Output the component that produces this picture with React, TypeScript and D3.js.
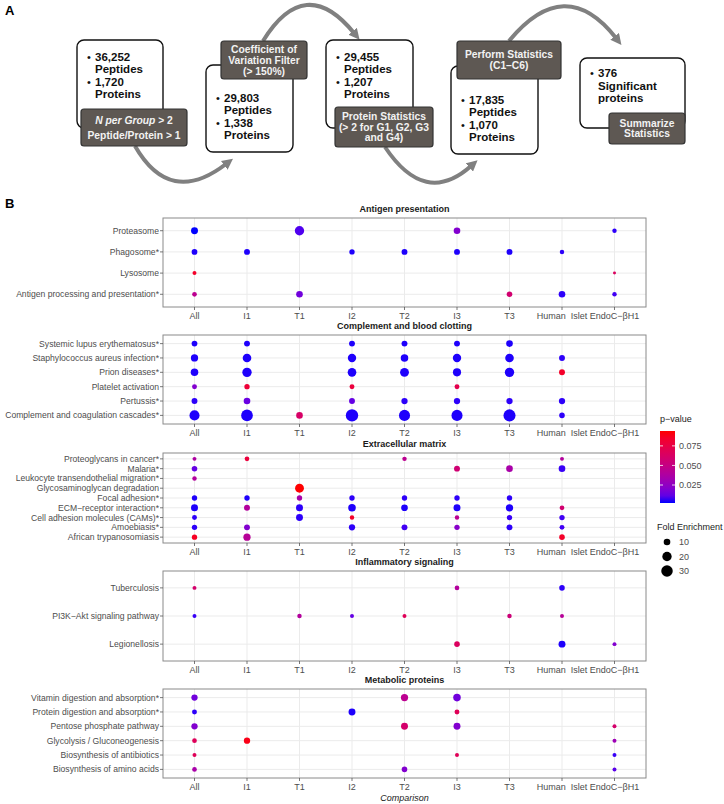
import React from "react";
import * as d3 from "d3";

// ---- panel B data ----
const comparisons = ["All", "I1", "T1", "I2", "T2", "I3", "T3", "Human", "EndoC"];
const comparisonLabels = ["All", "I1", "T1", "I2", "T2", "I3", "T3", "Human  Islet", "EndoC\u2212\u03b2H1"];

const panelTitles = [
  "Antigen presentation",
  "Complement and blood clotting",
  "Extracellular matrix",
  "Inflammatory signaling",
  "Metabolic proteins",
];

const antigenTerms = ["Proteasome", "Phagosome*", "Lysosome", "Antigen processing and presentation*"];
const clottingTerms = [
  "Systemic lupus erythematosus*",
  "Staphylococcus aureus infection*",
  "Prion diseases*",
  "Platelet activation",
  "Pertussis*",
  "Complement and coagulation cascades*",
];
const matrixTerms = [
  "Proteoglycans in cancer*",
  "Malaria*",
  "Leukocyte transendothelial migration*",
  "Glycosaminoglycan degradation",
  "Focal adhesion*",
  "ECM\u2212receptor interaction*",
  "Cell adhesion molecules (CAMs)*",
  "Amoebiasis*",
  "African trypanosomiasis",
];
const inflammatoryTerms = ["Tuberculosis", "PI3K\u2212Akt signaling pathway", "Legionellosis"];
const metabolicTerms = [
  "Vitamin digestion and absorption*",
  "Protein digestion and absorption*",
  "Pentose phosphate pathway",
  "Glycolysis / Gluconeogenesis",
  "Biosynthesis of antibiotics",
  "Biosynthesis of amino acids",
];

// [term index, comparison, fold enrichment, p-value]
type Dot = [number, string, number, number];

const antigenDots: Dot[] = [
  [0, "All", 11, 0.002], [0, "T1", 20, 0.008], [0, "I3", 10, 0.02], [0, "EndoC", 4.4, 0.004],
  [1, "All", 7.5, 0.003], [1, "I1", 8, 0.003], [1, "I2", 6.5, 0.003], [1, "T2", 8, 0.003],
  [1, "I3", 8, 0.003], [1, "T3", 8, 0.003], [1, "Human", 4.5, 0.004],
  [2, "All", 3.6, 0.085], [2, "EndoC", 2, 0.065],
  [3, "All", 5, 0.045], [3, "T1", 10, 0.015], [3, "T3", 7, 0.058], [3, "Human", 10, 0.004], [3, "EndoC", 4.5, 0.006],
];

const clottingDots: Dot[] = [
  [0, "All", 7.5, 0.003], [0, "I1", 8, 0.003], [0, "I2", 8, 0.003], [0, "T2", 8, 0.003], [0, "I3", 8, 0.003], [0, "T3", 10, 0.003],
  [1, "All", 12, 0.003], [1, "I1", 17, 0.003], [1, "I2", 16, 0.003], [1, "T2", 13, 0.003], [1, "I3", 16, 0.003], [1, "T3", 17, 0.003], [1, "Human", 8, 0.004],
  [2, "All", 13, 0.003], [2, "I1", 20, 0.003], [2, "I2", 17, 0.003], [2, "T2", 18, 0.003], [2, "I3", 15, 0.003], [2, "T3", 20, 0.003], [2, "Human", 8, 0.085],
  [3, "All", 5.5, 0.02], [3, "I1", 6.5, 0.08], [3, "I2", 5.5, 0.078], [3, "I3", 5.5, 0.072],
  [4, "All", 8, 0.004], [4, "I1", 10, 0.013], [4, "I2", 8, 0.012], [4, "T2", 9, 0.004], [4, "I3", 9, 0.004], [4, "T3", 9, 0.004], [4, "Human", 9, 0.004],
  [5, "All", 23, 0.003], [5, "I1", 31, 0.003], [5, "T1", 10, 0.062], [5, "I2", 35, 0.003], [5, "T2", 28, 0.003], [5, "I3", 28, 0.003], [5, "T3", 33, 0.003], [5, "Human", 7, 0.004],
];

const matrixDots: Dot[] = [
  [0, "All", 3.6, 0.038], [0, "I1", 5, 0.078], [0, "T2", 4.5, 0.045], [0, "Human", 3.6, 0.04],
  [1, "All", 7, 0.012], [1, "I3", 8, 0.057], [1, "T3", 10, 0.035], [1, "Human", 10, 0.005],
  [2, "All", 4.5, 0.04],
  [3, "T1", 18, 0.094],
  [4, "All", 6.5, 0.003], [4, "I1", 6.5, 0.003], [4, "T1", 6.5, 0.035], [4, "I2", 6.5, 0.004], [4, "T2", 6.5, 0.004], [4, "I3", 6.5, 0.004], [4, "T3", 6.5, 0.004],
  [5, "All", 11, 0.003], [5, "I1", 8, 0.04], [5, "T1", 11, 0.004], [5, "I2", 13, 0.003], [5, "T2", 10, 0.003], [5, "I3", 11, 0.003], [5, "T3", 12, 0.003], [5, "Human", 5, 0.058],
  [6, "All", 5.5, 0.004], [6, "T1", 11, 0.004], [6, "I2", 4.5, 0.085], [6, "I3", 4.5, 0.045], [6, "T3", 6.5, 0.005], [6, "Human", 6.5, 0.006],
  [7, "All", 6.5, 0.004], [7, "I1", 8, 0.02], [7, "I2", 9, 0.004], [7, "T2", 8, 0.006], [7, "I3", 6.5, 0.022], [7, "T3", 8, 0.004], [7, "Human", 5.5, 0.006],
  [8, "All", 6.5, 0.087], [8, "I1", 12, 0.042], [8, "Human", 7, 0.085],
];

const inflammatoryDots: Dot[] = [
  [0, "All", 3.6, 0.06], [0, "I3", 5, 0.04], [0, "Human", 7, 0.004],
  [1, "All", 3.6, 0.005], [1, "T1", 4.5, 0.04], [1, "I2", 3.6, 0.012], [1, "T2", 3.6, 0.068], [1, "T3", 4.5, 0.055], [1, "Human", 3.6, 0.042],
  [2, "I3", 7, 0.065], [2, "Human", 11, 0.003], [2, "EndoC", 3.6, 0.02],
];

const metabolicDots: Dot[] = [
  [0, "All", 9, 0.015], [0, "T2", 12, 0.045], [0, "I3", 13, 0.015],
  [1, "All", 5.5, 0.004], [1, "I2", 11, 0.003], [1, "I3", 5.5, 0.068],
  [2, "All", 9, 0.02], [2, "T2", 11, 0.06], [2, "I3", 11, 0.02], [2, "EndoC", 3.6, 0.06],
  [3, "All", 5, 0.067], [3, "I1", 9, 0.09], [3, "EndoC", 3.6, 0.03],
  [4, "All", 3.6, 0.068], [4, "I3", 3.6, 0.068], [4, "EndoC", 3.6, 0.005],
  [5, "All", 5, 0.035], [5, "T2", 7, 0.02], [5, "EndoC", 3.6, 0.01],
];

const pTicks = [0.025, 0.05, 0.075];
const sizeTicks = [10, 20, 30];

// ---- panel A data ----
const flowCounts = [
  ["36,252", "Peptides", "1,720", "Proteins"],
  ["29,803", "Peptides", "1,338", "Proteins"],
  ["29,455", "Peptides", "1,207", "Proteins"],
  ["17,835", "Peptides", "1,070", "Proteins"],
  ["376", "Significant", "proteins"],
];
const flowSteps = [
  ["N per Group > 2", "Peptide/Protein > 1"],
  ["Coefficient of", "Variation Filter", "(> 150%)"],
  ["Protein Statistics", "(> 2 for G1, G2, G3", "and G4)"],
  ["Perform Statistics", "(C1\u2013C6)"],
  ["Summarize", "Statistics"],
];

const FONT = "'Liberation Sans', Arial, Helvetica, sans-serif";

const rows = [
  { terms: antigenTerms, dots: antigenDots },
  { terms: clottingTerms, dots: clottingDots },
  { terms: matrixTerms, dots: matrixDots },
  { terms: inflammatoryTerms, dots: inflammatoryDots },
  { terms: metabolicTerms, dots: metabolicDots },
];

// layout
const plotLeft = 163;
const plotRight = 646;
const panelBoxes = [
  [218, 307],
  [335, 424],
  [453, 543],
  [571, 661],
  [689, 778],
];

const allDots = rows.flatMap((r) => r.dots);
const pExtent = d3.extent(allDots, (d) => d[3]) as [number, number];
const color = d3.scaleLinear<string>().domain(pExtent).range(["blue", "red"]).interpolate(d3.interpolateLab);
const radius = d3.scaleSqrt().domain([0, 35]).range([0, 6.2]);

const x = d3.scalePoint<string>().domain(comparisons).range([plotLeft, plotRight]).padding(0.6);

// flow chart geometry
const whiteBoxes = [
  { x: 77, y: 40, w: 86, h: 88, ty: 57 },
  { x: 206, y: 65, w: 87, h: 87, ty: 98 },
  { x: 326, y: 40, w: 87, h: 88, ty: 57 },
  { x: 451, y: 66, w: 87, h: 88, ty: 100 },
  { x: 580, y: 58, w: 105, h: 70, ty: 73 },
];
const grayBoxes = [
  { x: 81, y: 109, w: 106, h: 37, step: 15 },
  { x: 221, y: 41, w: 86, h: 38, step: 11 },
  { x: 335, y: 107, w: 98, h: 40, step: 10.5 },
  { x: 457, y: 41, w: 104, h: 38, step: 10.5 },
  { x: 609, y: 113, w: 76, h: 31, step: 10.5 },
];
const arrows = [
  "M135,146 Q170,207 226,164",
  "M263,41 Q305,-27 354,33",
  "M385,147 Q425,207 471,166",
  "M509,41 Q565,-27 616,38",
];

const FlowChart: React.FC = () => (
  <g fontFamily={FONT} fontWeight="bold">
    <text x={5} y={15} fontSize={13} fill="#000">A</text>
    <defs>
      <marker id="ah" viewBox="0 0 10 10" refX={2} refY={5} markerWidth={11} markerHeight={11} markerUnits="userSpaceOnUse" orient="auto">
        <path d="M0,0 L10,5 L0,10 z" fill="#808080" />
      </marker>
    </defs>
    {arrows.map((d, i) => (
      <path key={i} d={d} fill="none" stroke="#808080" strokeWidth={4} markerEnd="url(#ah)" />
    ))}
    {whiteBoxes.map((b, i) => {
      const lines = flowCounts[i];
      const ys = lines.length === 4 ? [0, 11.5, 25, 37] : [0, 12.5, 25];
      const bulletRows = lines.length === 4 ? [0, 2] : [0];
      return (
        <g key={i}>
          <rect x={b.x} y={b.y} width={b.w} height={b.h} rx={7} fill="#fff" stroke="#111" strokeWidth={1.4} />
          {lines.map((t, j) => (
            <g key={j}>
              {bulletRows.includes(j) && (
                <text x={b.x + 10} y={b.ty + ys[j]} dy="0.35em" fontSize={11} fontWeight="normal" fill="#111">{"\u2022"}</text>
              )}
              <text x={b.x + 18} y={b.ty + ys[j]} dy="0.35em" fontSize={11.5} fill="#111">{t}</text>
            </g>
          ))}
        </g>
      );
    })}
    {grayBoxes.map((b, i) => {
      const lines = flowSteps[i];
      const cx = b.x + b.w / 2;
      const cy = b.y + b.h / 2;
      const y0 = cy - ((lines.length - 1) * b.step) / 2;
      return (
        <g key={i}>
          <rect x={b.x} y={b.y} width={b.w} height={b.h} rx={3} fill="#5e5853" stroke="#333" strokeWidth={1.2} />
          {lines.map((t, j) => (
            <text key={j} x={cx} y={y0 + j * b.step} dy="0.35em" textAnchor="middle" fontSize={10.3} fill="#f2f2f2">
              {t.startsWith("N per Group") ? (
                <>
                  <tspan fontStyle="italic">N per Group</tspan>
                  {t.slice(11)}
                </>
              ) : (
                t
              )}
            </text>
          ))}
        </g>
      );
    })}
  </g>
);

const Panel: React.FC<{ idx: number }> = ({ idx }) => {
  const { terms, dots } = rows[idx];
  const [top, bottom] = panelBoxes[idx];
  const y = d3.scalePoint<string>().domain(terms).range([top, bottom]).padding(0.6);
  return (
    <g fontFamily={FONT}>
      <text x={(plotLeft + plotRight) / 2} y={top - 6} textAnchor="middle" fontSize={9} fontWeight="bold" fill="#1a1a1a">
        {panelTitles[idx]}
      </text>
      <rect x={plotLeft} y={top} width={plotRight - plotLeft} height={bottom - top} fill="#fff" />
      {comparisons.map((c) => (
        <line key={c} x1={x(c)} x2={x(c)} y1={top} y2={bottom} stroke="#ebebeb" strokeWidth={1} />
      ))}
      {terms.map((t) => (
        <line key={t} x1={plotLeft} x2={plotRight} y1={y(t)} y2={y(t)} stroke="#ebebeb" strokeWidth={1} />
      ))}
      {dots.map(([ti, c, fe, p], i) => (
        <circle key={i} cx={x(c)} cy={y(terms[ti])} r={radius(fe)} fill={color(p)} />
      ))}
      <rect x={plotLeft} y={top} width={plotRight - plotLeft} height={bottom - top} fill="none" stroke="#8a8a8a" strokeWidth={1} />
      {terms.map((t) => (
        <g key={t}>
          <line x1={plotLeft - 3} x2={plotLeft} y1={y(t)} y2={y(t)} stroke="#555" strokeWidth={0.8} />
          <text x={plotLeft - 4} y={y(t)} dy="0.35em" textAnchor="end" fontSize={8.6} fill="#4d4d4d">{t}</text>
        </g>
      ))}
      {comparisons.map((c, i) => (
        <g key={c}>
          <line x1={x(c)} x2={x(c)} y1={bottom} y2={bottom + 3} stroke="#555" strokeWidth={0.8} />
          <text x={x(c)} y={bottom + 12} textAnchor="middle" fontSize={9} fill="#4d4d4d" style={{ whiteSpace: "pre" }}>
            {comparisonLabels[i]}
          </text>
        </g>
      ))}
    </g>
  );
};

const Legend: React.FC = () => {
  const barX = 660;
  const barW = 15;
  const barTop = 431;
  const barBottom = 503;
  const py = d3.scaleLinear().domain(pExtent).range([barBottom, barTop]);
  const stops = d3.range(0, 1.0001, 0.1);
  return (
    <g fontFamily={FONT}>
      <defs>
        <linearGradient id="pgrad" x1="0" y1="1" x2="0" y2="0">
          {stops.map((s) => (
            <stop key={s} offset={s} stopColor={color(pExtent[0] + s * (pExtent[1] - pExtent[0]))} />
          ))}
        </linearGradient>
      </defs>
      <text x={barX} y={422} fontSize={9} fill="#1a1a1a">p{"\u2212"}value</text>
      <rect x={barX} y={barTop} width={barW} height={barBottom - barTop} fill="url(#pgrad)" />
      {pTicks.map((t) => (
        <g key={t}>
          <line x1={barX} x2={barX + 3} y1={py(t)} y2={py(t)} stroke="#fff" strokeWidth={0.8} />
          <line x1={barX + barW - 3} x2={barX + barW} y1={py(t)} y2={py(t)} stroke="#fff" strokeWidth={0.8} />
          <text x={barX + barW + 4} y={py(t)} dy="0.35em" fontSize={9} fill="#4d4d4d">{d3.format(".3f")(t)}</text>
        </g>
      ))}
      <text x={barX - 3} y={530} fontSize={9} fill="#1a1a1a">Fold Enrichment</text>
      {sizeTicks.map((s, i) => (
        <g key={s}>
          <circle cx={667} cy={542 + i * 14.5} r={radius(s)} fill="#000" />
          <text x={679} y={542 + i * 14.5} dy="0.35em" fontSize={9} fill="#4d4d4d">{s}</text>
        </g>
      ))}
    </g>
  );
};

const App: React.FC = () => (
  <svg width={724} height={804} style={{ position: "absolute", left: 0, top: 0, background: "#fff" }}>
    <rect width={724} height={804} fill="#fff" />
    <FlowChart />
    <text x={5} y={208} fontFamily={FONT} fontWeight="bold" fontSize={13} fill="#000">B</text>
    {rows.map((_, i) => (
      <Panel key={i} idx={i} />
    ))}
    <Legend />
    <text x={(plotLeft + plotRight) / 2} y={798} dy="0.35em" textAnchor="middle" fontFamily={FONT} fontStyle="italic" fontSize={9} fill="#1a1a1a">
      Comparison
    </text>
  </svg>
);

export default App;
